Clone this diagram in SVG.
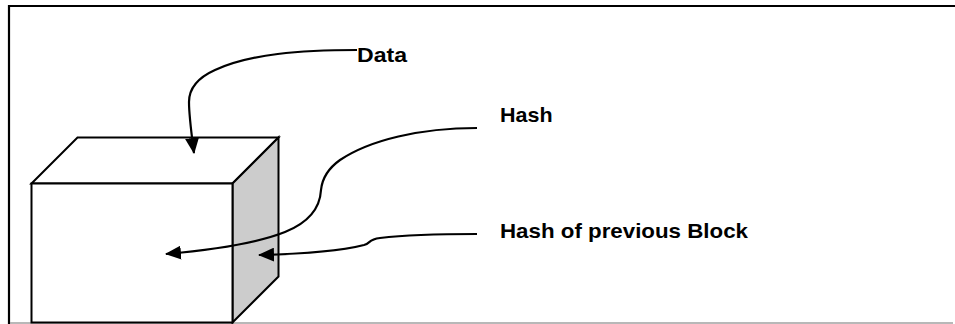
<svg xmlns="http://www.w3.org/2000/svg" width="955" height="324" viewBox="0 0 955 324">
<style>
.frame{fill:none;stroke:#000;stroke-width:2.2}
.edge{fill:none;stroke:#000;stroke-width:2.2}
.face{fill:#fff;stroke:#000;stroke-width:2;stroke-linejoin:miter}
.side{fill:#cccccc;stroke:#000;stroke-width:2}
.lbl{font-family:"Liberation Sans",Arial,sans-serif;font-weight:bold;font-size:21px;fill:#000}
</style>
<defs>
<marker id="ah" viewBox="0 0 16 14" refX="15" refY="7" markerWidth="16" markerHeight="14" markerUnits="userSpaceOnUse" orient="auto">
<path d="M0,0 L16,7 L0,14 Z" fill="#000"/>
</marker>
</defs>
<rect width="955" height="324" fill="#fff"/>
<g id="frame">
<path class="frame" d="M9,324 V6 H955"/>
<line x1="10" y1="323" x2="953" y2="323" stroke="#a0a0a0" stroke-width="1.5"/>
</g>
<g id="block">
<polygon class="face" points="31.5,183.5 77.5,137.5 278.5,137.5 232.5,183.5"/>
<polygon class="side" points="232.5,183.5 278.5,137.5 278.5,276.5 232.5,322.5"/>
<rect class="face" x="31.5" y="183.5" width="201" height="139"/>
</g>
<g id="connectors">
<path class="edge" marker-end="url(#ah)" d="M357,50 C300,50 250,54 215,70 C195,79 189,90 189,102 C189,116 191,130 194,153"/>
<path class="edge" marker-end="url(#ah)" d="M477,128 C420,128 370,140 340,160 C326,170 322,180 321,190 C320,208 310,222 285,232 C255,244 210,250 166,254"/>
<path class="edge" marker-end="url(#ah)" d="M477,234 C440,234 405,235 380,238 C368,239.5 371,243 364,245 C340,251 300,254 259,255"/>
</g>
<g id="label-data"><text class="lbl" x="357" y="61.7" textLength="50" lengthAdjust="spacingAndGlyphs">Data</text></g>
<g id="label-hash"><text class="lbl" x="500" y="121.7" textLength="52.5" lengthAdjust="spacingAndGlyphs">Hash</text></g>
<g id="label-prev"><text class="lbl" x="500" y="238.3" textLength="248" lengthAdjust="spacingAndGlyphs">Hash of previous Block</text></g>
</svg>
